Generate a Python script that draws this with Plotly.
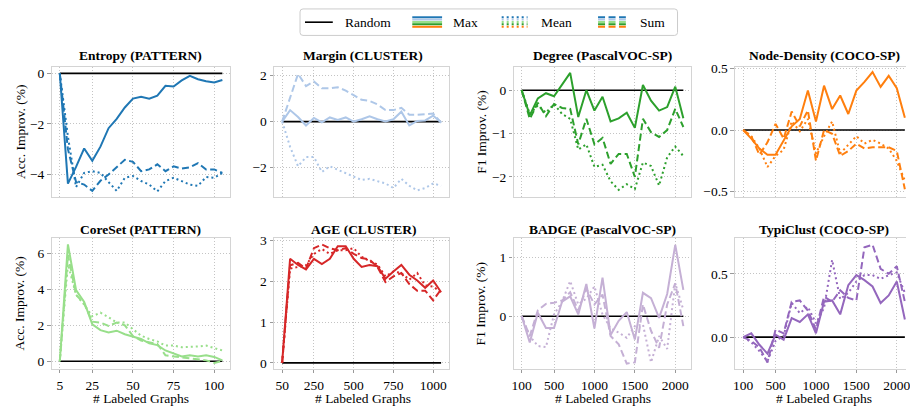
import plotly.graph_objects as go

# ---------------- data ----------------
x_pattern = [5, 10, 15, 20, 25, 30, 35, 40, 45, 50, 55, 60, 65, 70, 75, 80, 85, 90, 95, 100, 105]
x_cluster = [50, 100, 150, 200, 250, 300, 350, 400, 450, 500, 550, 600, 650, 700, 750, 800, 850, 900, 950, 1000, 1050]
x_voc = [100, 200, 300, 400, 500, 600, 700, 800, 900, 1000, 1100, 1200, 1300, 1400, 1500, 1600, 1700, 1800, 1900, 2000, 2100]

random_pattern = [0.0] * 21
random_cluster = [0.0] * 21
random_voc = [0.0] * 21

entropy_max = [0, -4.36, -3.7, -2.97, -3.46, -2.9, -2.17, -1.8, -1.35, -1.0, -0.93, -1.0, -0.88, -0.49, -0.52, -0.28, -0.1, -0.23, -0.31, -0.36, -0.26]
entropy_mean = [0, -2.5, -4.5, -3.94, -3.87, -3.94, -4.3, -4.65, -4.13, -4.06, -4.26, -4.4, -4.67, -4.26, -4.13, -4.26, -4.4, -4.45, -4.1, -4.13, -3.94]
entropy_sum = [0, -3.0, -4.3, -4.4, -4.65, -4.25, -4.0, -3.7, -3.42, -3.5, -3.87, -3.8, -3.6, -3.87, -3.68, -3.77, -3.72, -3.55, -3.8, -3.8, -3.94]

margin_max = [0, 0.5, 0.2, -0.17, 0.16, -0.03, 0.18, 0.07, 0.18, 0.0, 0.1, 0.23, 0.1, 0.0, 0.1, 0.43, -0.17, 0.03, 0.05, 0.26, -0.03]
margin_mean = [0, -1.1, -1.95, -1.55, -1.55, -2.2, -1.95, -2.1, -2.25, -2.4, -2.55, -2.5, -2.6, -2.7, -2.9, -2.5, -2.8, -3.0, -2.9, -2.7, -2.8]
margin_sum = [0, 1.0, 2.08, 1.55, 1.75, 1.45, 1.45, 1.5, 1.35, 1.15, 0.95, 0.9, 0.75, 0.5, 0.5, 0.6, 0.3, 0.3, 0.32, 0.35, -0.05]

degree_max = [0, -0.58, -0.19, -0.07, -0.14, 0.13, 0.4, -0.62, 0.0, -0.47, -0.15, -0.72, -0.65, -0.52, -0.87, 0.12, -0.24, -0.47, -0.39, 0.08, -0.65]
degree_mean = [0, -0.55, -0.35, -0.52, -0.32, -0.55, -0.66, -1.37, -1.25, -1.77, -1.72, -2.1, -2.3, -2.17, -2.28, -1.67, -1.75, -2.2, -1.55, -1.3, -1.52]
degree_sum = [0, -0.66, -0.29, -0.6, -0.32, -0.41, -0.43, -1.25, -0.66, -1.25, -1.1, -1.7, -1.47, -1.47, -2.0, -0.66, -0.97, -1.08, -0.92, -0.43, -0.85]

density_max = [0, -0.07, -0.15, -0.2, -0.2, -0.08, 0.03, 0.09, 0.32, 0.07, 0.36, 0.17, 0.28, 0.13, 0.32, 0.39, 0.47, 0.35, 0.44, 0.34, 0.1]
density_mean = [0, -0.05, -0.15, -0.3, -0.21, -0.16, 0.07, -0.01, 0.09, -0.19, -0.05, 0.07, -0.19, -0.12, -0.05, -0.11, -0.08, -0.11, -0.15, -0.25, -0.41]
density_sum = [0, -0.05, -0.2, -0.1, 0.05, -0.07, 0.15, 0.03, 0.16, -0.25, 0.0, -0.03, -0.21, -0.17, -0.11, -0.15, -0.14, -0.14, -0.14, -0.17, -0.48]

coreset_max = [0, 6.5, 3.96, 3.3, 2.05, 1.73, 1.6, 1.7, 1.5, 1.36, 1.24, 1.0, 0.9, 0.6, 0.45, 0.27, 0.33, 0.27, 0.33, 0.24, 0.05]
coreset_mean = [0, 5.4, 3.7, 3.15, 2.5, 2.7, 2.45, 2.15, 2.15, 1.78, 1.42, 1.24, 1.1, 0.87, 0.87, 0.78, 0.78, 0.82, 0.87, 0.75, 0.6]
coreset_sum = [0, 5.9, 3.7, 3.2, 2.2, 2.15, 1.96, 2.15, 2.0, 1.4, 1.15, 1.05, 0.96, 0.33, 0.27, 0.2, 0.15, 0.09, 0.05, -0.09, 0.02]

age_max = [0, 2.55, 2.4, 2.29, 2.55, 2.42, 2.55, 2.86, 2.86, 2.55, 2.35, 2.4, 2.37, 2.06, 2.24, 2.4, 2.16, 2.02, 1.84, 2.02, 1.73]
age_mean = [0, 2.31, 2.35, 2.39, 2.67, 2.79, 2.67, 2.76, 2.76, 2.81, 2.6, 2.49, 2.41, 2.12, 2.24, 2.2, 2.04, 2.2, 1.9, 1.87, 1.73]
age_sum = [0, 2.39, 2.45, 2.31, 2.81, 2.9, 2.81, 2.76, 2.81, 2.67, 2.57, 2.53, 2.35, 1.98, 2.12, 2.2, 1.93, 1.77, 1.77, 1.53, 1.8]

badge_max = [0, -0.45, 0.06, -0.2, -0.2, 0.25, 0.34, 0.03, 0.55, -0.21, 0.66, -0.32, -0.08, 0.07, -0.4, 0.4, 0.31, -0.03, 0.38, 1.22, 0.45]
badge_mean = [0, -0.34, -0.51, -0.53, 0.03, 0.25, 0.6, 0.2, 0.3, 0.51, 0.03, -0.21, -0.28, -0.37, -0.17, -0.14, -0.79, -0.34, -0.56, 0.56, 0.11]
badge_sum = [0, -0.34, 0.1, 0.21, 0.23, 0.27, 0.41, 0.1, 0.47, 0.2, 0.37, -0.34, -0.48, -0.81, -0.79, 0.2, -0.25, -0.54, 0.2, 0.56, -0.17]

typi_max = [0, 0.03, -0.06, -0.13, 0.02, -0.02, 0.15, 0.12, 0.18, 0.03, 0.28, 0.29, 0.18, 0.41, 0.49, 0.45, 0.4, 0.27, 0.33, 0.44, 0.14]
typi_mean = [0, -0.04, -0.11, -0.19, -0.03, 0.01, 0.27, 0.19, 0.24, 0.11, 0.23, 0.61, 0.3, 0.35, 0.44, 0.49, 0.49, 0.46, 0.49, 0.51, 0.35]
typi_sum = [0, -0.03, -0.08, -0.2, 0.06, 0.03, 0.28, 0.29, 0.21, 0.06, 0.32, 0.28, 0.37, 0.31, 0.29, 0.71, 0.73, 0.54, 0.5, 0.56, 0.28]

titles = ["Entropy (PATTERN)", "Margin (CLUSTER)", "Degree (PascalVOC-SP)", "Node-Density (COCO-SP)",
          "CoreSet (PATTERN)", "AGE (CLUSTER)", "BADGE (PascalVOC-SP)", "TypiClust (COCO-SP)"]
legend_labels = ["Random", "Max", "Mean", "Sum"]
ticks_pattern = [5, 25, 50, 75, 100]
ticks_cluster = [50, 250, 500, 750, 1000]
ticks_voc = [100, 500, 1000, 1500, 2000]

# ---------------- layout helpers ----------------
W, H = 910, 412
FONT = "Liberation Serif"
FS = 13.5
DOT = "2px,3px"
DASH = "7px,3.5px"

col_px = [(50, 230), (274, 450), (515, 694), (738, 910)]
row_px = [(62, 195), (237, 370)]


def px_x(p):
    return p / W


def px_y(p):
    return 1 - p / H


panels = [
    dict(x=x_pattern, r=random_pattern, mx=entropy_max, mn=entropy_mean, sm=entropy_sum, color="#1f77b4",
         xr=[0, 110], yr=[-4.9, 0.26], xt=ticks_pattern, yt=[-4, -2, 0], fmt=None),
    dict(x=x_cluster, r=random_cluster, mx=margin_max, mn=margin_mean, sm=margin_sum, color="#aec7e8",
         xr=[0, 1100], yr=[-3.3, 2.39], xt=ticks_cluster, yt=[-2, 0, 2], fmt=None),
    dict(x=x_voc, r=random_voc, mx=degree_max, mn=degree_mean, sm=degree_sum, color="#2ca02c",
         xr=[0, 2200], yr=[-2.47, 0.54], xt=ticks_voc, yt=[-2, -1, 0], fmt=None),
    dict(x=x_voc, r=random_voc, mx=density_max, mn=density_mean, sm=density_sum, color="#ff7f0e",
         xr=[0, 2114], yr=[-0.545, 0.513], xt=ticks_voc, yt=[-0.5, 0, 0.5], fmt=".1f"),
    dict(x=x_pattern, r=random_pattern, mx=coreset_max, mn=coreset_mean, sm=coreset_sum, color="#98df8a",
         xr=[0, 110], yr=[-0.42, 6.83], xt=ticks_pattern, yt=[0, 2, 4, 6], fmt=None),
    dict(x=x_cluster, r=random_cluster, mx=age_max, mn=age_mean, sm=age_sum, color="#d62728",
         xr=[0, 1100], yr=[-0.145, 3.05], xt=ticks_cluster, yt=[0, 1, 2, 3], fmt=None),
    dict(x=x_voc, r=random_voc, mx=badge_max, mn=badge_mean, sm=badge_sum, color="#c5b0d5",
         xr=[0, 2200], yr=[-0.9, 1.33], xt=ticks_voc, yt=[0, 1], fmt=None),
    dict(x=x_voc, r=random_voc, mx=typi_max, mn=typi_mean, sm=typi_sum, color="#9467bd",
         xr=[0, 2114], yr=[-0.25, 0.78], xt=ticks_voc, yt=[0, 0.5], fmt=".1f"),
]

fig = go.Figure()
layout = dict(
    width=W, height=H, margin=dict(l=0, r=0, t=0, b=0),
    paper_bgcolor="white", plot_bgcolor="white", showlegend=False,
    font=dict(family=FONT, size=FS, color="black"),
)
annotations = []
shapes = []

FRAME = "#d4d4d4"
GRID = "#c4c4c4"
TF = dict(family=FONT, size=FS, color="black")

for i, p in enumerate(panels):
    row, col = divmod(i, 4)
    k = i + 1
    xa = f"x{k}" if k > 1 else "x"
    ya = f"y{k}" if k > 1 else "y"
    lw = 2.0
    fig.add_trace(go.Scatter(x=p["x"], y=p["r"], mode="lines", line=dict(color="black", width=1.6),
                             xaxis=xa, yaxis=ya, name="Random"))
    fig.add_trace(go.Scatter(x=p["x"], y=p["mn"], mode="lines", line=dict(color=p["color"], width=lw, dash=DOT),
                             xaxis=xa, yaxis=ya, name="Mean"))
    fig.add_trace(go.Scatter(x=p["x"], y=p["sm"], mode="lines", line=dict(color=p["color"], width=lw, dash=DASH),
                             xaxis=xa, yaxis=ya, name="Sum"))
    fig.add_trace(go.Scatter(x=p["x"], y=p["mx"], mode="lines", line=dict(color=p["color"], width=lw),
                             xaxis=xa, yaxis=ya, name="Max"))

    c0, c1 = col_px[col]
    r0, r1 = row_px[row]
    xkey = "xaxis" if k == 1 else f"xaxis{k}"
    ykey = "yaxis" if k == 1 else f"yaxis{k}"
    layout[xkey] = dict(
        domain=[px_x(c0), px_x(c1)], anchor=ya, range=p["xr"], tickvals=p["xt"],
        showline=True, linecolor=FRAME, linewidth=1.3, mirror=True,
        showgrid=True, gridcolor=GRID, griddash="1px,2px", gridwidth=0.8, zeroline=False,
        ticks="outside" if row == 1 else "", ticklen=3.5, tickcolor="#999999", tickwidth=1,
        showticklabels=(row == 1), tickfont=TF, ticklabeloverflow="allow",
    )
    layout[ykey] = dict(
        domain=[px_y(r1), px_y(r0)], anchor=xa, range=p["yr"], tickvals=p["yt"],
        showline=True, linecolor=FRAME, linewidth=1.3, mirror=(col != 3),
        showgrid=True, gridcolor=GRID, griddash="1px,2px", gridwidth=0.8, zeroline=False,
        ticks="outside", ticklen=3.5, tickcolor="#999999", tickwidth=1,
        tickfont=TF,
    )
    if p["fmt"]:
        layout[ykey]["tickformat"] = p["fmt"]

    cx = px_x(c0 + 89.5)
    ty = 50 if row == 0 else 228
    annotations.append(dict(text=f"<b>{titles[i]}</b>", x=cx, y=px_y(ty),
                            xref="paper", yref="paper", showarrow=False, xanchor="center", yanchor="middle",
                            font=TF))
    if row == 1:
        annotations.append(dict(text="# Labeled Graphs", x=cx, y=px_y(400),
                                xref="paper", yref="paper", showarrow=False, xanchor="center", yanchor="middle",
                                font=TF))
    if col in (0, 2):
        lab = "Acc. Improv. (%)" if col == 0 else "F1 Improv. (%)"
        lx = 18 if col == 0 else 482
        annotations.append(dict(text=lab, x=px_x(lx), y=px_y((r0 + r1) / 2), textangle=-90,
                                xref="paper", yref="paper", showarrow=False, xanchor="center", yanchor="middle",
                                font=TF))

# ---------------- manual legend ----------------
bx0, bx1, by0, by1, rr = 300, 680, 3, 30, 3
rx, ry = rr / W, rr / H
X0, X1, Y0, Y1 = px_x(bx0), px_x(bx1), px_y(by1), px_y(by0)
legend_path = (f"M {X0 + rx},{Y0} L {X1 - rx},{Y0} Q {X1},{Y0} {X1},{Y0 + ry} "
               f"L {X1},{Y1 - ry} Q {X1},{Y1} {X1 - rx},{Y1} L {X0 + rx},{Y1} Q {X0},{Y1} {X0},{Y1 - ry} "
               f"L {X0},{Y0 + ry} Q {X0},{Y0} {X0 + rx},{Y0} Z")
shapes.append(dict(type="path", xref="paper", yref="paper", path=legend_path,
                   line=dict(color="#cccccc", width=1), fillcolor="white", layer="above"))
shapes.append(dict(type="line", xref="paper", yref="paper", x0=px_x(305), x1=px_x(333), y0=px_y(16.5), y1=px_y(16.5),
                   line=dict(color="black", width=1.6), layer="above"))
legend_colors = ["#1f77b4", "#aec7e8", "#98df8a", "#2ca02c", "#ff7f0e"]
legend_ys = [11.5, 13.8, 16.3, 18.6, 21.2]
for hx0, hx1, dash in [(413, 443, "solid"), (503, 529, DOT), (600, 628, DASH)]:
    for c, yy in zip(legend_colors, legend_ys):
        shapes.append(dict(type="line", xref="paper", yref="paper", x0=px_x(hx0), x1=px_x(hx1),
                           y0=px_y(yy), y1=px_y(yy), line=dict(color=c, width=2, dash=dash), layer="above"))
for txt, tx in zip(legend_labels, [343, 452, 541, 640]):
    annotations.append(dict(text=txt, x=px_x(tx), y=px_y(16.5), xref="paper", yref="paper", showarrow=False,
                            xanchor="left", yanchor="middle", font=TF))

layout["annotations"] = annotations
layout["shapes"] = shapes
fig.update_layout(**layout)
fig.write_html("out.html", config={"displayModeBar": False},
               post_script="document.body.style.margin='0';document.body.style.overflow='hidden';")
